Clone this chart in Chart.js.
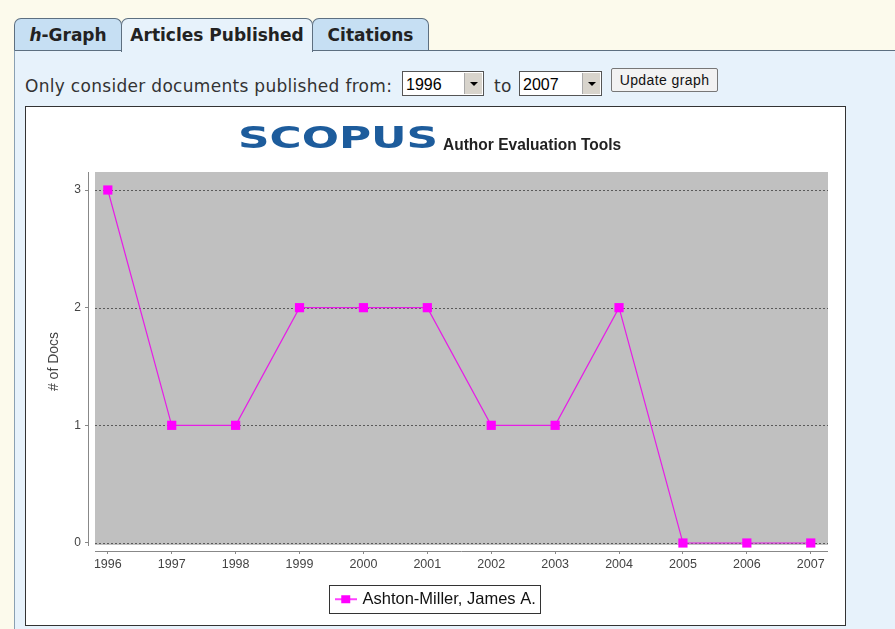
<!DOCTYPE html>
<html>
<head>
<meta charset="utf-8">
<script src="https://cdn.jsdelivr.net/npm/chart.js@4.4.0/dist/chart.umd.min.js"></script>
<style>
  body { margin: 0; width: 895px; height: 629px; background: #fcfaec; position: relative; overflow: hidden; font-family: "DejaVu Sans", Verdana, sans-serif; }
  .panel { position: absolute; left: 14px; top: 50px; width: 900px; height: 600px; background: #e7f2fb; border-top: 1px solid #5d6f80; border-left: 1px solid #8aa0b2; }
  .tab { position: absolute; top: 18px; height: 31px; border: 1px solid #5d6f80; border-bottom: none; border-radius: 7px 7px 0 0; background: #c6dff3; font-weight: bold; font-size: 17px; color: #222; line-height: 33px; text-align: center; }
  .tab.active { background: #e7f2fb; height: 33px; z-index: 2; }
  .row { position: absolute; top: 76px; left: 25px; font-size: 17px; letter-spacing: 0.3px; color: #333; }
  .sel { position: absolute; top: 71px; height: 25px; background: #fff; border: 1px solid #555; font-family: "Liberation Sans", Arial, sans-serif; font-size: 16px; line-height: 25px; padding-left: 3px; box-sizing: border-box; }
  .sel .arr { position: absolute; right: 1px; top: 1px; width: 17px; height: 21px; background: #d8d4cc; border-left: 1px solid #aaa; }
  .sel .arr:after { content: ""; position: absolute; left: 5px; top: 9px; border-left: 4px solid transparent; border-right: 4px solid transparent; border-top: 4px solid #000; }
  .btn { position: absolute; left: 611px; top: 68px; width: 107px; height: 24px; border: 1px solid #777; border-radius: 2px; background: #f2f2f2; font-family: "Liberation Sans", Arial, sans-serif; font-size: 14px; letter-spacing: 0.4px; line-height: 22px; text-align: center; color: #111; box-sizing: border-box; }
  .box { position: absolute; left: 25px; top: 106px; width: 819px; height: 518px; border: 1px solid #333; background: #fff; }
  canvas { display: block; }
</style>
</head>
<body>
<div class="panel"></div>
<div class="tab" style="left:14px;width:106px;"><i>h</i>-Graph</div>
<div class="tab active" style="left:121px;width:190px;">Articles Published</div>
<div class="tab" style="left:312px;width:115px;">Citations</div>
<div class="row">Only consider documents published from:</div>
<div class="sel" style="left:402px;width:82px;">1996<div class="arr"></div></div>
<div class="row" style="left:494px;">to</div>
<div class="sel" style="left:519px;width:83px;">2007<div class="arr"></div></div>
<div class="btn">Update graph</div>
<div class="box"><canvas id="chart0" width="819" height="518"></canvas></div>

<script>
"use strict"

// == data
const years = [1996, 1997, 1998, 1999, 2000, 2001, 2002, 2003, 2004, 2005, 2006, 2007]
const docs = [3, 1, 1, 2, 2, 2, 1, 1, 2, 0, 0, 0]
const yTicks = [0, 1, 2, 3]
const seriesName = "Ashton-Miller, James A."

// legend marker: short line with a square on it
function makeMarker() {
    let c = document.createElement("canvas")
    c.width = 22
    c.height = 10
    let g = c.getContext("2d")
    g.strokeStyle = "#ff00ff"
    g.lineWidth = 1.5
    g.beginPath()
    g.moveTo(0, 5)
    g.lineTo(22, 5)
    g.stroke()
    g.fillStyle = "#ff00ff"
    g.fillRect(6, 1, 9, 8)
    return c
}

// gray plot background, dashed grid and axis lines (jfreechart style)
const plotBack = {
    id: "plotBack",
    beforeDatasetsDraw(chart) {
        const ctx = chart.ctx
        const a = chart.chartArea
        const y = chart.scales.y
        ctx.save()
        ctx.fillStyle = "#c0c0c0"
        ctx.fillRect(a.left + 7, a.top, a.right - a.left - 7, a.bottom - a.top - 6)
        ctx.strokeStyle = "#5a5a5a"
        ctx.lineWidth = 1
        ctx.setLineDash([2, 2])
        for (let v of yTicks) {
            let py = Math.round(y.getPixelForValue(v)) + 0.5
            ctx.beginPath()
            ctx.moveTo(a.left + 7, py)
            ctx.lineTo(a.right, py)
            ctx.stroke()
        }
        ctx.setLineDash([])
        ctx.strokeStyle = "#888"
        ctx.beginPath()
        ctx.moveTo(a.left + 0.5, a.top)
        ctx.lineTo(a.left + 0.5, a.bottom - 5)
        ctx.moveTo(a.left + 7, a.bottom + 0.5)
        ctx.lineTo(a.right, a.bottom + 0.5)
        ctx.stroke()
        ctx.restore()
    },
    afterDraw(chart) {
        const ctx = chart.ctx
        ctx.save()
        // title: SCOPUS logo + subtitle
        ctx.fillStyle = "#1d5c9c"
        ctx.font = "bold 30px 'DejaVu Sans'"
        ctx.textBaseline = "alphabetic"
        ctx.translate(212, 41)
        ctx.scale(1.46, 1)
        ctx.fillText("SCOPUS", 0, 0)
        ctx.restore()
        ctx.save()
        ctx.fillStyle = "#222"
        ctx.font = "bold 16px 'Liberation Sans'"
        ctx.translate(417, 38)
        ctx.scale(0.97, 1.05)
        ctx.fillText("Author Evaluation Tools", 0, 0)
        ctx.restore()
        ctx.save()
        // legend frame
        let hb = chart.legend.legendHitBoxes[0]
        if (hb) {
            ctx.strokeStyle = "#333"
            ctx.lineWidth = 1
            ctx.strokeRect(Math.round(hb.left) - 8.5, Math.round(hb.top) - 5.5, Math.round(hb.width) + 13, 28)
        }
        ctx.restore()
    }
}

function CreateGraph(canvasId) {
    let chart = document.getElementById(canvasId).getContext("2d")
    let points = years.map((yr, i) => ({x: yr, y: docs[i]}))

    new Chart(chart, {
        type: "line",
        data: {
            datasets: [{
                label: seriesName,
                data: points,
                borderColor: "#e61ee6",
                borderWidth: 1.2,
                backgroundColor: "#ff00ff",
                pointStyle: "rect",
                pointRadius: 6.5,
                pointBorderWidth: 0,
                pointHoverRadius: 6.5,
                tension: 0
            }]
        },
        options: {
            responsive: false,
            animation: false,
            layout: { padding: { left: 20, top: 65, right: 17, bottom: 7.5 } },
            scales: {
                x: {
                    type: "linear",
                    min: 1995.69,
                    max: 2007.27,
                    afterBuildTicks: axis => { axis.ticks = years.map(v => ({value: v})) },
                    afterFit: axis => { axis.height = 30 },
                    grid: { drawOnChartArea: false, drawTicks: true, tickLength: 3, color: "#888" },
                    border: { display: false },
                    ticks: {
                        color: "#444",
                        font: { family: "Liberation Sans", size: 12.5 },
                        padding: 3,
                        maxRotation: 0,
                        callback: v => String(v)
                    }
                },
                y: {
                    min: -0.068,
                    max: 3.153,
                    afterBuildTicks: axis => { axis.ticks = yTicks.map(v => ({value: v})) },
                    afterFit: axis => { axis.width = 42 },
                    grid: { drawOnChartArea: false, drawTicks: true, tickLength: 3, color: "#888" },
                    border: { display: false },
                    title: {
                        display: true,
                        text: "# of Docs",
                        color: "#444",
                        font: { family: "Liberation Sans", size: 14 },
                        padding: 0
                    },
                    ticks: {
                        color: "#444",
                        font: { family: "Liberation Sans", size: 12 },
                        padding: 4
                    }
                }
            },
            plugins: {
                legend: {
                    position: "bottom",
                    labels: {
                        usePointStyle: true,
                        pointStyle: makeMarker(),
                        pointStyleWidth: 16,
                        color: "#111",
                        font: { family: "Liberation Sans", size: 16.5 },
                        padding: 10
                    }
                },
                tooltip: { enabled: false }
            }
        },
        plugins: [plotBack]
    })
}

CreateGraph("chart0")
</script>
</body>
</html>
